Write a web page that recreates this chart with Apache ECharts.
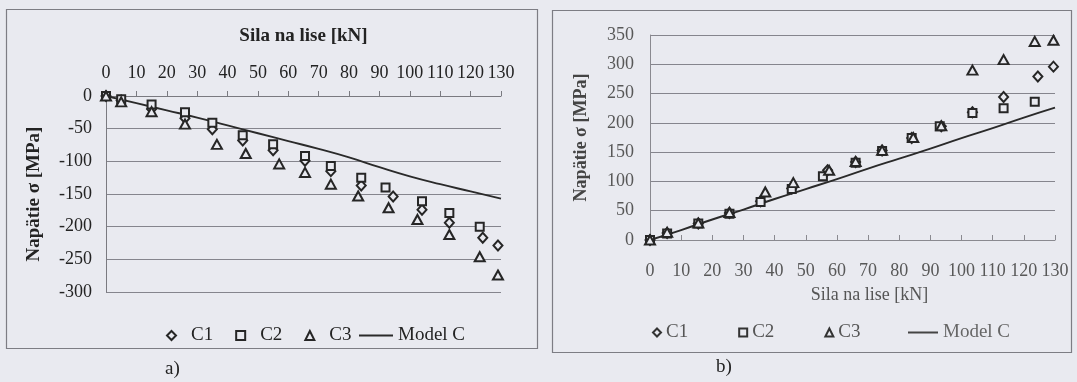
<!DOCTYPE html>
<html>
<head>
<meta charset="utf-8">
<script src="https://cdn.jsdelivr.net/npm/echarts@6/dist/echarts.min.js"></script>
<style>
  html, body { margin: 0; padding: 0; background: #e9eaf0; }
  #chart { width: 1077px; height: 382px; }
</style>
</head>
<body>
<div id="chart"></div>
<script>
// ---------- Chart a) : compressive stress (negative) ----------
const aC1Load   = [0, 5, 15, 26, 35, 45, 55, 65.5, 74, 84, 94.5, 104, 113, 124, 129];
const aC1Stress = [0, -7, -20, -34, -51, -68, -83, -99, -115, -137, -154, -174, -194, -217, -229];
const aC2Load   = [0, 5, 15, 26, 35, 45, 55, 65.5, 74, 84, 92, 104, 113, 123];
const aC2Stress = [0, -5, -13, -25, -41, -60, -74, -92, -107, -125, -140, -161, -179, -200];
const aC3Load   = [0, 5, 15, 26, 36.5, 46, 57, 65.5, 74, 83, 93, 102.5, 113, 123, 129];
const aC3Stress = [0, -9, -24, -43, -74, -88, -104, -117, -135, -153, -171, -189, -212, -246, -274];
const aModelLoad   = [0, 10, 20, 30, 40, 50, 60, 70, 80, 90, 100, 110, 120, 130];
const aModelStress = [0, -11, -22, -33, -45, -57, -69, -81, -94, -109, -123, -135, -146, -157];

// ---------- Chart b) : tensile stress (positive) ----------
const bC1Load   = [0, 5.5, 15.5, 25.5, 35.5, 45.5, 57, 66, 74.5, 84, 93.5, 103.5, 113.5, 124.5, 129.5];
const bC1Stress = [0, 12, 28, 46, 66, 88, 119, 133, 153, 174, 194, 218, 244, 279, 296];
const bC2Load   = [0, 5.5, 15.5, 25.5, 35.5, 45.5, 55.5, 66, 74.5, 84, 93, 103.5, 113.5, 123.5];
const bC2Stress = [0, 11, 28, 45, 65, 87, 109, 132, 152, 174, 194, 217, 225, 236];
const bC3Load   = [0, 5.5, 15.5, 25.5, 37, 46, 57.5, 66, 74.5, 84.5, 93.5, 103.5, 113.5, 123.5, 129.5];
const bC3Stress = [0, 13, 29, 47, 82, 98, 119, 134, 153, 175, 195, 290, 308, 339, 341];
const bModelLoad   = [0, 10, 20, 30, 40, 50, 60, 70, 80, 90, 100, 110, 120, 130];
const bModelStress = [0, 17, 35, 52, 70, 87, 104, 122, 139, 156, 174, 191, 209, 226];

// ---------- Labels ----------
const seriesNames = ['C1', 'C2', 'C3', 'Model C'];
const xTitle = 'Sila na lise [kN]';
const yTitle = 'Napätie σ [MPa]';
const panelLabels = ['a)', 'b)'];

const zip = (xs, ys) => xs.map((x, i) => [x, ys[i]]);

const FONT = 'Liberation Serif';
const INK = '#232323';
const GRID = '#85858d';
const BG = '#e9eaf0';

const markerStyle = { color: BG, borderColor: '#262626', borderWidth: 2, opacity: 1 };
const symbols = ['diamond', 'rect', 'triangle'];
const symbolSizes = [[9, 10], [8, 8], [10, 9]];

function scatter(name, idx, data, gi) {
  return {
    name, type: 'scatter', xAxisIndex: gi, yAxisIndex: gi,
    data, symbol: symbols[idx], symbolSize: symbolSizes[idx],
    itemStyle: markerStyle, z: 3, emphasis: { disabled: true }
  };
}
function model(data, gi) {
  return {
    name: seriesNames[3], type: 'line', xAxisIndex: gi, yAxisIndex: gi,
    data, symbol: 'none', smooth: true,
    lineStyle: { color: '#2a2a2a', width: 1.9 }, z: 2
  };
}

const axisText = (size, color) => ({ fontFamily: FONT, fontSize: size, color: color });

const option = {
  backgroundColor: BG,
  animation: false,
  grid: [
    { left: 106, top: 96, width: 395, height: 196, outerBoundsMode: 'none', containLabel: false },
    { left: 650, top: 35, width: 405, height: 205, outerBoundsMode: 'none', containLabel: false }
  ],
  xAxis: [
    {
      gridIndex: 0, type: 'value', position: 'top', min: 0, max: 130, interval: 10,
      name: xTitle, nameLocation: 'middle', nameGap: 50,
      nameTextStyle: { fontFamily: FONT, fontSize: 19, fontWeight: 'bold', color: INK },
      axisLine: { show: true, onZero: false, lineStyle: { color: '#7a7a80', width: 1 } },
      axisTick: { show: true, inside: false, length: 5, lineStyle: { color: '#7a7a80' } },
      axisLabel: Object.assign({ margin: 14 }, axisText(18, INK)),
      splitLine: { show: false }
    },
    {
      gridIndex: 1, type: 'value', position: 'bottom', min: 0, max: 130, interval: 10,
      name: xTitle, nameLocation: 'middle', nameGap: 46,
      nameTextStyle: { fontFamily: FONT, fontSize: 18, color: '#555', padding: [0, 0, 0, 34] },
      axisLine: { show: true, onZero: false, lineStyle: { color: '#8a8a90', width: 1 } },
      axisTick: { show: true, inside: true, length: 5, lineStyle: { color: '#8a8a90' } },
      axisLabel: Object.assign({ margin: 22 }, axisText(18, '#585858')),
      splitLine: { show: false }
    }
  ],
  yAxis: [
    {
      gridIndex: 0, type: 'value', min: -300, max: 0, interval: 50,
      name: yTitle, nameLocation: 'middle', nameGap: 62,
      nameTextStyle: { fontFamily: FONT, fontSize: 19, fontWeight: 'bold', color: INK },
      axisLine: { show: true, onZero: false, lineStyle: { color: '#7a7a80', width: 1 } },
      axisTick: { show: false },
      axisLabel: Object.assign({ margin: 14 }, axisText(18, INK)),
      splitLine: { show: true, lineStyle: { color: GRID, width: 1 } }
    },
    {
      gridIndex: 1, type: 'value', min: 0, max: 350, interval: 50,
      name: yTitle, nameLocation: 'middle', nameGap: 60,
      nameTextStyle: { fontFamily: FONT, fontSize: 18, fontWeight: 'bold', color: '#444' },
      axisLine: { show: true, onZero: false, lineStyle: { color: '#8a8a90', width: 1 } },
      axisTick: { show: false },
      axisLabel: Object.assign({ margin: 16 }, axisText(18, '#585858')),
      splitLine: { show: true, lineStyle: { color: GRID, width: 1 } }
    }
  ],
  legend: [
    {
      left: 161, top: 321, orient: 'horizontal', itemWidth: 9, itemHeight: 9, itemGap: 22,
      data: seriesNames.slice(0, 3), selectedMode: false,
      itemStyle: { borderWidth: 2, borderColor: '#262626', color: BG },
      textStyle: { fontFamily: FONT, fontSize: 19, color: INK, padding: [0, 0, 0, 10] }
    },
    {
      left: 354, top: 321, itemWidth: 34, itemHeight: 2, selectedMode: false,
      data: [{ name: seriesNames[3], icon: 'rect' }],
      itemStyle: { color: '#2a2a2a' },
      textStyle: { fontFamily: FONT, fontSize: 19, color: INK }
    },
    {
      left: 647, top: 318, itemWidth: 8, itemHeight: 8, itemGap: 50,
      data: seriesNames.slice(0, 3), selectedMode: false,
      itemStyle: { borderWidth: 2, borderColor: '#333', color: BG },
      textStyle: { fontFamily: FONT, fontSize: 19, color: '#555' }
    },
    {
      left: 903, top: 318, itemWidth: 30, itemHeight: 2, selectedMode: false,
      data: [{ name: seriesNames[3], icon: 'rect' }],
      itemStyle: { color: '#444' },
      textStyle: { fontFamily: FONT, fontSize: 19, color: '#666' }
    }
  ],
  graphic: [
    { type: 'rect', shape: { x: 6.5, y: 9.5, width: 531, height: 339 }, style: { fill: 'none', stroke: '#7d7d84', lineWidth: 1.2 }, silent: true },
    { type: 'rect', shape: { x: 552.5, y: 10.5, width: 519, height: 342 }, style: { fill: 'none', stroke: '#7d7d84', lineWidth: 1.2 }, silent: true },
    { type: 'text', left: 165, top: 360, style: { text: panelLabels[0], font: '19px "Liberation Serif"', fill: INK }, silent: true },
    { type: 'text', left: 716, top: 358, style: { text: panelLabels[1], font: '19px "Liberation Serif"', fill: INK }, silent: true }
  ],
  series: [
    model(zip(aModelLoad, aModelStress), 0),
    scatter(seriesNames[0], 0, zip(aC1Load, aC1Stress), 0),
    scatter(seriesNames[1], 1, zip(aC2Load, aC2Stress), 0),
    scatter(seriesNames[2], 2, zip(aC3Load, aC3Stress), 0),
    model(zip(bModelLoad, bModelStress), 1),
    scatter(seriesNames[0], 0, zip(bC1Load, bC1Stress), 1),
    scatter(seriesNames[1], 1, zip(bC2Load, bC2Stress), 1),
    scatter(seriesNames[2], 2, zip(bC3Load, bC3Stress), 1)
  ]
};

const chart = echarts.init(document.getElementById('chart'), null, { renderer: 'canvas' });
chart.setOption(option);
</script>
</body>
</html>
